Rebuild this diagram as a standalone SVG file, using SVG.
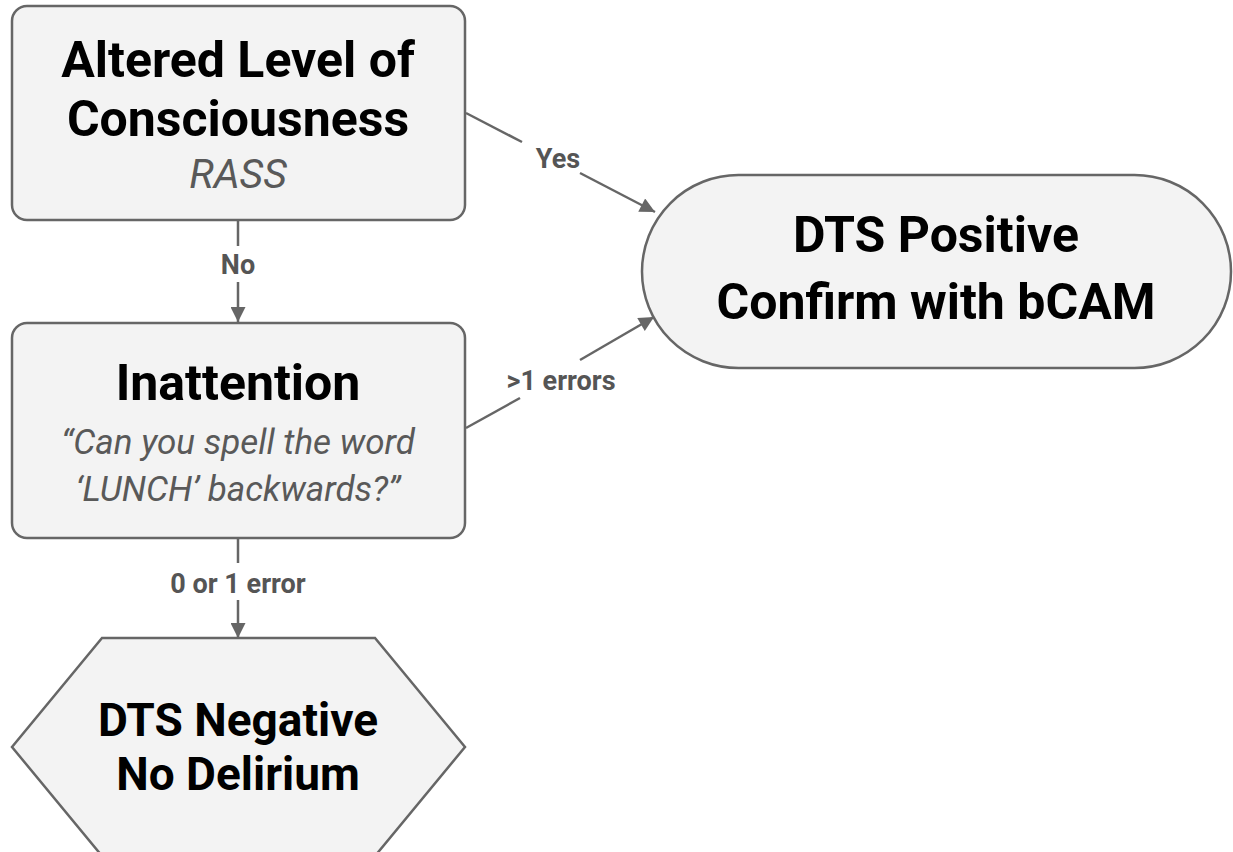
<svg xmlns="http://www.w3.org/2000/svg" width="1233" height="852" viewBox="0 0 1233 852">
<defs>
<style>
.node{fill:#f3f3f3;stroke:#666;stroke-width:2.5}
.edge{stroke:#666;stroke-width:2.5;fill:none}
.t{font-family:Roboto,"Liberation Sans",sans-serif;font-weight:bold;fill:#000;text-anchor:middle}
.s{font-family:Roboto,"Liberation Sans",sans-serif;font-style:italic;fill:#595959;text-anchor:middle}
.lbl{font-family:Roboto,"Liberation Sans",sans-serif;font-weight:bold;fill:#555;text-anchor:middle;font-size:27px}
</style>
<marker id="arr" viewBox="0 0 10 10" refX="10" refY="5" markerWidth="7" markerHeight="6" markerUnits="strokeWidth" orient="auto">
<path d="M0,0 L10,5 L0,10 z" fill="#666"/>
</marker>
</defs>
<rect width="1233" height="852" fill="#fff"/>
<g id="connectors">
<line class="edge" x1="466" y1="113" x2="522" y2="142"/>
<line class="edge" x1="580" y1="173" x2="655" y2="212" marker-end="url(#arr)"/>
<line class="edge" x1="466" y1="428" x2="520" y2="398"/>
<line class="edge" x1="580" y1="360" x2="654" y2="317" marker-end="url(#arr)"/>
<line class="edge" x1="238" y1="220" x2="238" y2="246"/>
<line class="edge" x1="238" y1="282" x2="238" y2="322" marker-end="url(#arr)"/>
<line class="edge" x1="238" y1="538" x2="238" y2="563"/>
<line class="edge" x1="238" y1="600" x2="238" y2="638" marker-end="url(#arr)"/>
<text class="lbl" x="558" y="168">Yes</text>
<text class="lbl" x="561" y="390">&gt;1 errors</text>
<text class="lbl" x="238" y="274">No</text>
<text class="lbl" x="238" y="593">0 or 1 error</text>
</g>
<g id="altered">
<rect class="node" x="12" y="6" width="453" height="214" rx="15"/>
<text class="t" x="238" y="77" font-size="50">Altered Level of</text>
<text class="t" x="238" y="136" font-size="50">Consciousness</text>
<text class="s" x="238" y="188" font-size="41">RASS</text>
</g>
<g id="inattention">
<rect class="node" x="12" y="323" width="453" height="215" rx="15"/>
<text class="t" x="238" y="400" font-size="50">Inattention</text>
<text class="s" x="238" y="454" font-size="35">“Can you spell the word</text>
<text class="s" x="238" y="501" font-size="35">‘LUNCH’ backwards?”</text>
</g>
<g id="positive">
<rect class="node" x="642" y="175" width="589" height="193" rx="96.5"/>
<text class="t" x="936" y="252" font-size="50">DTS Positive</text>
<text class="t" x="936" y="319" font-size="50">Confirm with bCAM</text>
</g>
<g id="negative">
<polygon class="node" points="102,638 375,638 465,747 375,856 102,856 12,747"/>
<text class="t" x="238" y="736" font-size="46">DTS Negative</text>
<text class="t" x="238" y="790" font-size="46">No Delirium</text>
</g>
</svg>
